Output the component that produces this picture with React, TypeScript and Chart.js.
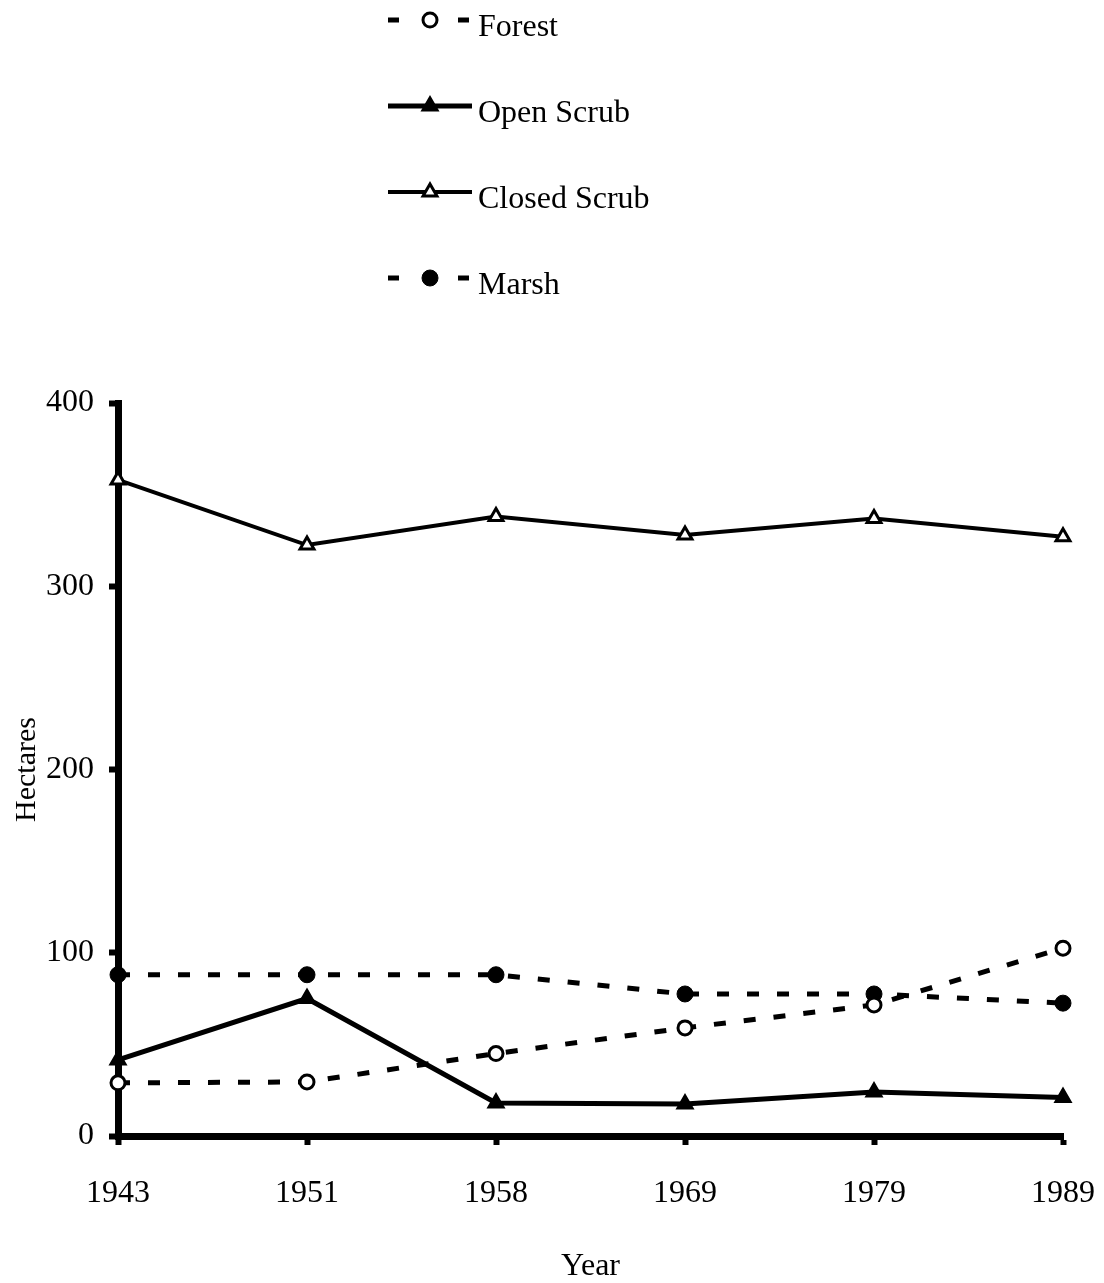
import React, { useEffect, useRef } from "react";
import { Chart, registerables } from "chart.js";

Chart.register(...registerables);

// ---- Data ----
const years = ["1943", "1951", "1958", "1969", "1979", "1989"];
const forest = [29, 29.5, 45, 59, 71.5, 102.5];
const openScrub = [41.5, 75, 18, 17.5, 24, 21];
const closedScrub = [358, 322.5, 338, 328, 337, 327];
const marsh = [88, 88, 88, 77.5, 77.5, 72.5];
const seriesNames = ["Forest", "Open Scrub", "Closed Scrub", "Marsh"];
const yTicks = [0, 100, 200, 300, 400];
const xTitle = "Year";
const yTitle = "Hectares";

const FONT = "'Liberation Serif', 'Times New Roman', serif";

function drawMarker(ctx: CanvasRenderingContext2D, ds: any, x: number, y: number) {
  const r = ds.pointRadius;
  ctx.beginPath();
  if (ds.pointStyle === "triangle") {
    ctx.moveTo(x, y - r);
    ctx.lineTo(x + r * Math.sin(Math.PI / 3), y + r * Math.cos(Math.PI / 3));
    ctx.lineTo(x - r * Math.sin(Math.PI / 3), y + r * Math.cos(Math.PI / 3));
    ctx.closePath();
  } else {
    ctx.arc(x, y, r, 0, Math.PI * 2);
  }
  ctx.fillStyle = ds.pointBackgroundColor;
  ctx.fill();
  ctx.lineWidth = ds.pointBorderWidth;
  ctx.strokeStyle = ds.pointBorderColor;
  ctx.setLineDash([]);
  ctx.stroke();
}

const legendPlugin = {
  id: "stackedLegend",
  afterDraw(chart: any) {
    const ctx: CanvasRenderingContext2D = chart.ctx;
    const rowY = [20, 106, 192, 278];
    chart.data.datasets.forEach((ds: any, i: number) => {
      const y = rowY[i];
      ctx.save();
      ctx.strokeStyle = "#000";
      ctx.lineWidth = ds.borderWidth;
      ctx.setLineDash([]);
      ctx.beginPath();
      if (ds.borderDash && ds.borderDash.length) {
        ctx.moveTo(388, y);
        ctx.lineTo(399, y);
        ctx.moveTo(458, y);
        ctx.lineTo(469, y);
      } else {
        ctx.moveTo(388, y);
        ctx.lineTo(472, y);
      }
      ctx.stroke();
      drawMarker(ctx, ds, 430, y);
      ctx.fillStyle = "#000";
      ctx.font = `32px ${FONT}`;
      ctx.textAlign = "left";
      ctx.textBaseline = "middle";
      ctx.fillText(ds.label, 478, y + 8);
      ctx.restore();
    });
  },
};

export default function App() {
  const ref = useRef<HTMLCanvasElement | null>(null);

  useEffect(() => {
    if (!ref.current) return;
    const chart = new Chart(ref.current, {
      type: "line",
      data: {
        labels: years,
        datasets: [
          {
            label: seriesNames[0],
            data: forest,
            borderColor: "#000",
            borderWidth: 5,
            borderDash: [12, 18],
            pointStyle: "circle",
            pointRadius: 7,
            pointBackgroundColor: "#fff",
            pointBorderColor: "#000",
            pointBorderWidth: 3,
            tension: 0,
            clip: false,
          } as any,
          {
            label: seriesNames[1],
            data: openScrub,
            borderColor: "#000",
            borderWidth: 5,
            pointStyle: "triangle",
            pointRadius: 9,
            pointBackgroundColor: "#000",
            pointBorderColor: "#000",
            pointBorderWidth: 2,
            tension: 0,
            clip: false,
          },
          {
            label: seriesNames[2],
            data: closedScrub,
            borderColor: "#000",
            borderWidth: 4,
            pointStyle: "triangle",
            pointRadius: 8,
            pointBackgroundColor: "#fff",
            pointBorderColor: "#000",
            pointBorderWidth: 3,
            tension: 0,
            clip: false,
          },
          {
            label: seriesNames[3],
            data: marsh,
            borderColor: "#000",
            borderWidth: 5,
            borderDash: [12, 18],
            pointStyle: "circle",
            pointRadius: 8,
            pointBackgroundColor: "#000",
            pointBorderColor: "#000",
            pointBorderWidth: 1,
            tension: 0,
            clip: false,
          } as any,
        ],
      },
      options: {
        animation: false,
        responsive: false,
        events: [],
        layout: { padding: { left: 0, top: 403, right: 41, bottom: 0 } },
        plugins: {
          legend: { display: false },
          tooltip: { enabled: false },
        },
        scales: {
          x: {
            type: "category",
            offset: false,
            border: { display: true, color: "#000", width: 7 },
            grid: {
              display: true,
              drawOnChartArea: false,
              drawTicks: true,
              tickLength: 9,
              tickWidth: 6,
              tickColor: "#000",
            },
            ticks: {
              color: "#000",
              font: { family: FONT, size: 32 },
              padding: 29,
              maxRotation: 0,
              autoSkip: false,
            },
            title: {
              display: true,
              text: xTitle,
              color: "#000",
              font: { family: FONT, size: 32 },
              padding: { top: 0, bottom: -3 },
            },
            afterFit: (scale: any) => {
              scale.height = 147;
              scale.paddingLeft = 0;
              scale.paddingRight = 0;
            },
          },
          y: {
            min: 0,
            max: 400,
            border: { display: true, color: "#000", width: 7 },
            grid: {
              display: true,
              drawOnChartArea: false,
              drawTicks: true,
              tickLength: 9,
              tickWidth: 6,
              tickColor: "#000",
            },
            ticks: {
              color: "#000",
              font: { family: FONT, size: 32 },
              padding: 15,
            },
            afterBuildTicks: (scale: any) => {
              scale.ticks = yTicks.map((v) => ({ value: v }));
            },
            title: {
              display: true,
              text: yTitle,
              color: "#000",
              font: { family: FONT, size: 30 },
              padding: { top: 9, bottom: 0 },
            },
            afterFit: (scale: any) => {
              scale.width = 118;
              scale.paddingTop = 0;
              scale.paddingBottom = 0;
            },
          },
        },
      },
      plugins: [legendPlugin],
    });
    return () => chart.destroy();
  }, []);

  return (
    <canvas
      ref={ref}
      width={1104}
      height={1283}
      style={{ position: "absolute", left: 0, top: 0, width: 1104, height: 1283 }}
    />
  );
}
